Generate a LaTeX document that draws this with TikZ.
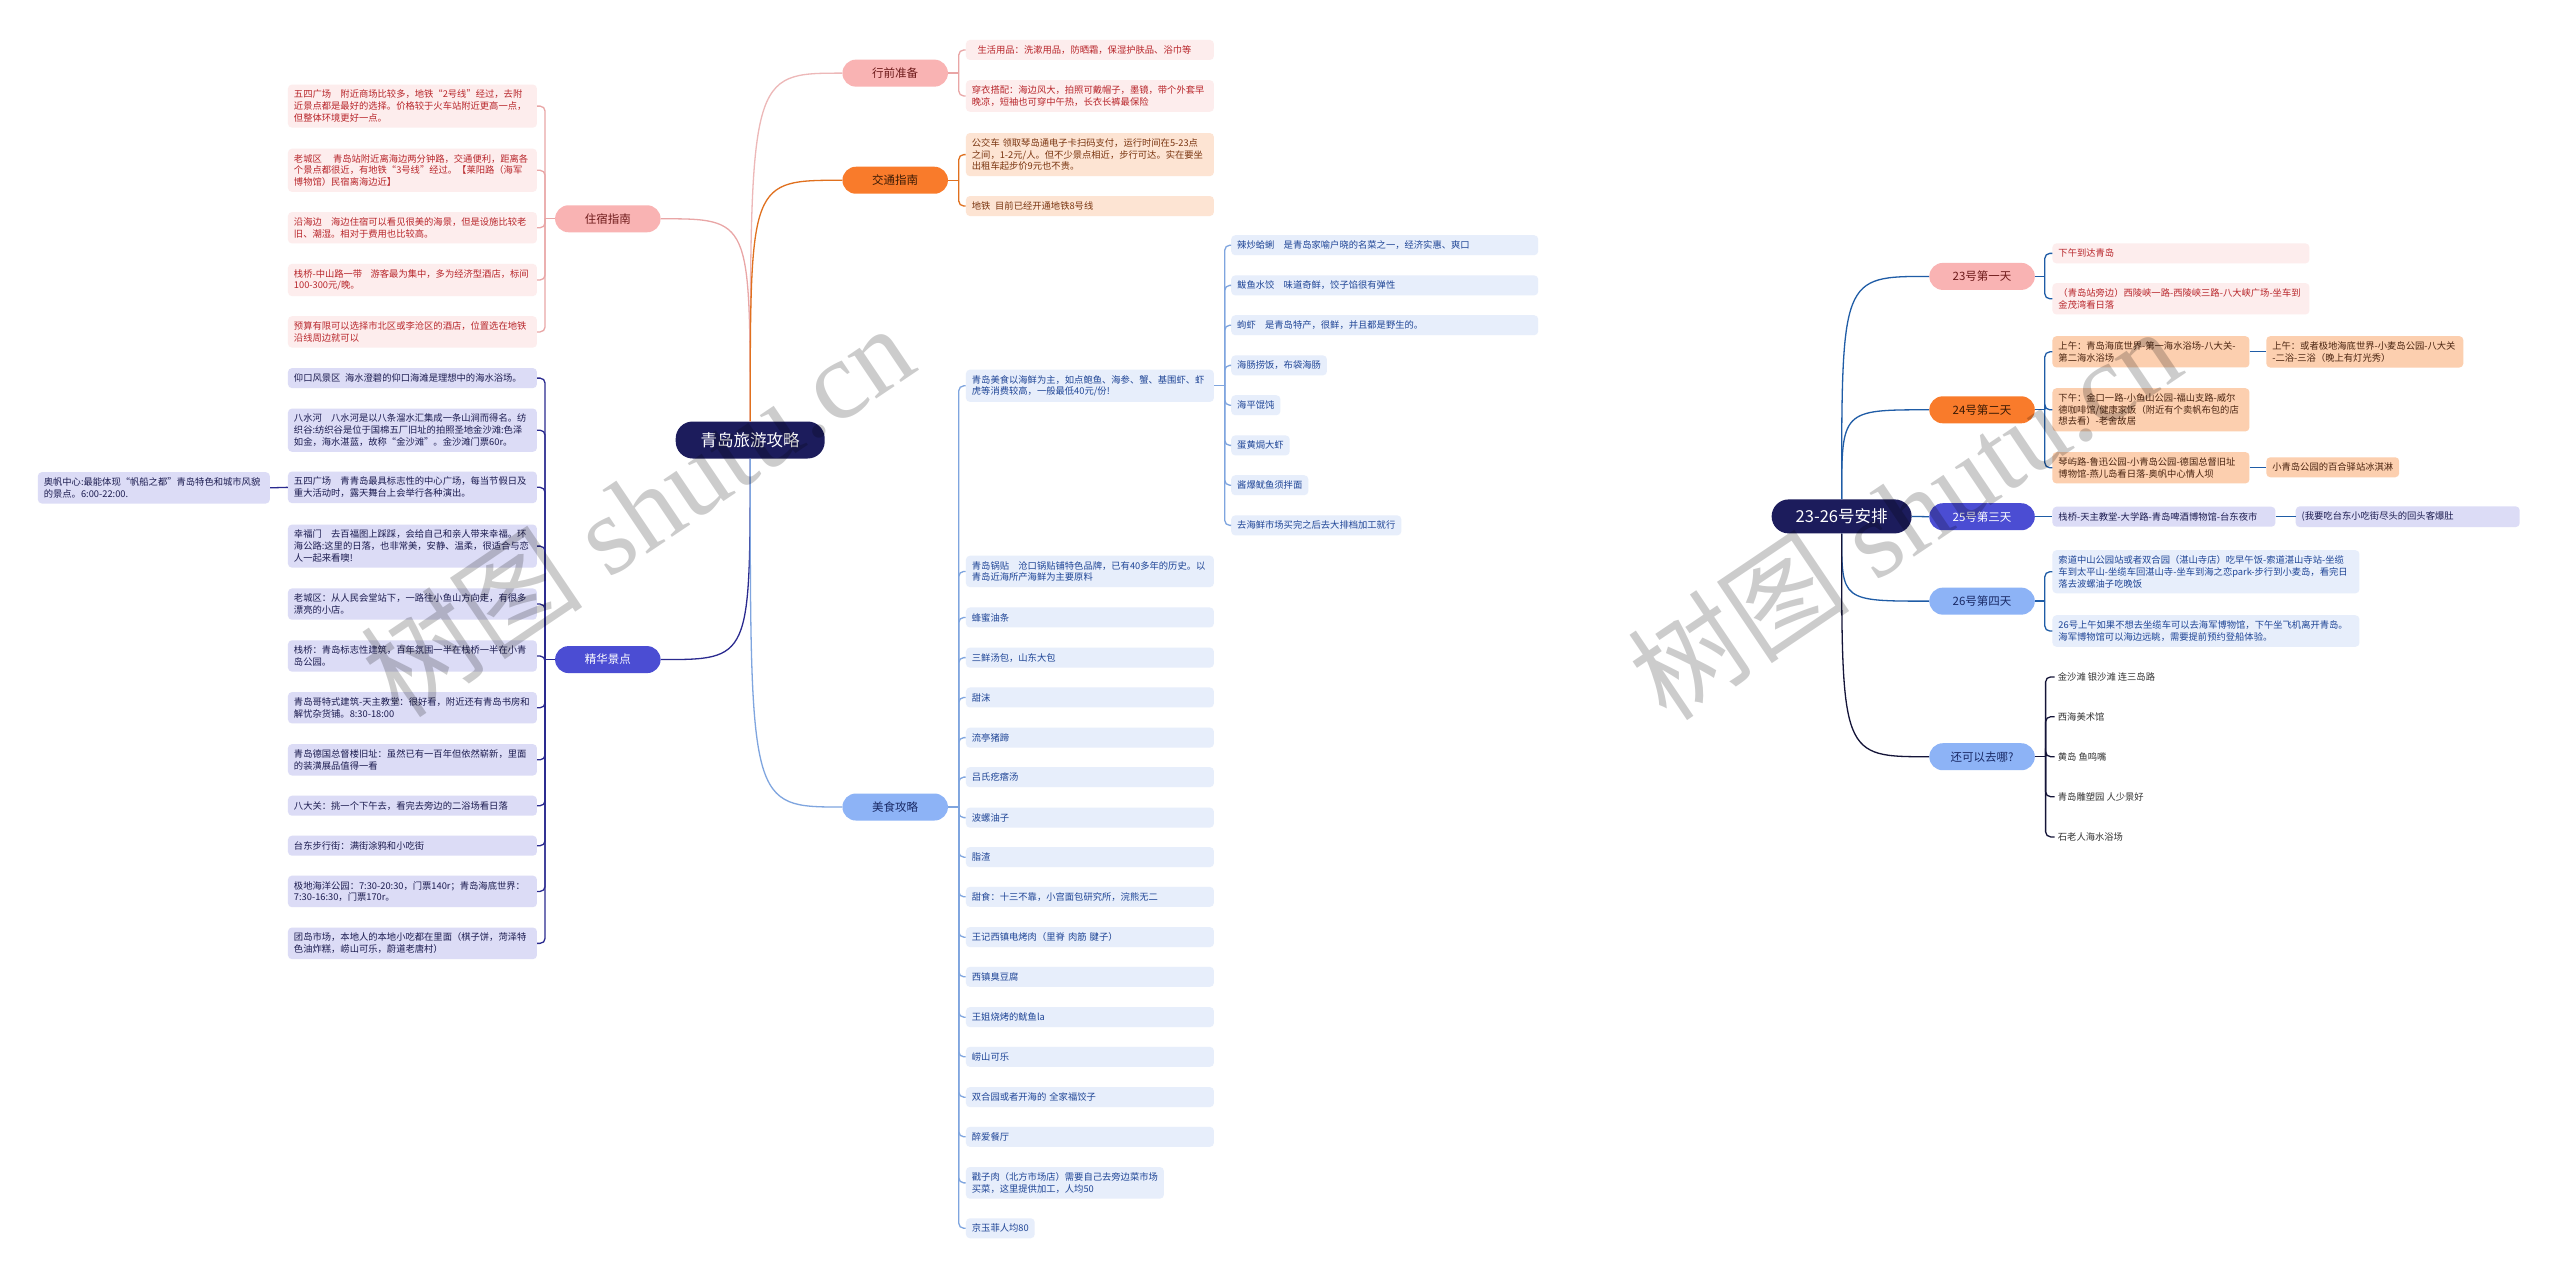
\documentclass[tikz,border=0pt]{standalone}
\usepackage{fontspec}
\setmainfont{Noto Sans CJK SC}
\newfontfamily\wmlatin{Liberation Serif}
\usetikzlibrary{calc}
\newcommand\tgap[1]{\nobreak\hspace{#1em}\nobreak}
\definecolor{navy}{HTML}{1C1C5C}
\definecolor{pinkN}{HTML}{F9B3B3}
\definecolor{pinkB}{HTML}{FDEDED}
\definecolor{pinkT}{HTML}{B8262B}
\definecolor{pinkL}{HTML}{E9A6A6}
\definecolor{pinkNT}{HTML}{6E1A1A}
\definecolor{oraN}{HTML}{F97B2B}
\definecolor{oraB}{HTML}{FDE4D3}
\definecolor{oraT}{HTML}{7A3510}
\definecolor{oraL}{HTML}{E0701E}
\definecolor{oraB2}{HTML}{FCCFAF}
\definecolor{oraT2}{HTML}{4A2410}
\definecolor{oraNT}{HTML}{3A1A05}
\definecolor{bluN}{HTML}{8DB3F6}
\definecolor{bluB}{HTML}{E7EEFB}
\definecolor{bluT}{HTML}{1F4596}
\definecolor{bluL}{HTML}{7FA5DF}
\definecolor{bluNT}{HTML}{1A2A66}
\definecolor{vioN}{HTML}{4B4DD3}
\definecolor{vioB}{HTML}{DCDCF6}
\definecolor{vioT}{HTML}{1C1C50}
\definecolor{vioL}{HTML}{2A2A8F}
\definecolor{rbL}{HTML}{1F5CA6}
\definecolor{blkL}{HTML}{141438}
\definecolor{plainT}{HTML}{333333}
\tikzset{
  box/.style={font=\fontsize{9.3}{11.7}\selectfont, align=left, inner xsep=6pt, inner ysep=5.5pt, minimum height=20pt, rounded corners=4pt},
  zsb/.style={box, fill=pinkB, text=pinkT},
  orb/.style={box, fill=oraB, text=oraT},
  orc/.style={box, fill=oraB2, text=oraT2},
  blb/.style={box, fill=bluB, text=bluT},
  vib/.style={box, fill=vioB, text=vioT},
  plain/.style={font=\fontsize{9.3}{11.7}\selectfont, text=plainT, inner xsep=3pt, inner ysep=3pt, align=left},
  lvl/.style={font=\fontsize{11.5}{13}\selectfont, minimum width=105.5pt, minimum height=27pt, rounded corners=13.5pt, inner sep=0pt},
  root/.style={fill=navy, text=white, font=\fontsize{16.5}{18}\selectfont, rounded corners=17pt, inner sep=0pt},
  conn/.style={line width=1.3pt},
  spine/.style={line width=1.3pt, rounded corners=5pt},
}
\begin{document}
\begin{tikzpicture}[x=1.6327pt,y=-1.6327pt]
\fill[white] (0,0) rectangle (1568,783.4);
\useasboundingbox (0,0) rectangle (1568,783.4);

% ---------- roots ----------
\node[root, minimum width=149pt, minimum height=37pt] (c1) at (459.5,269.5) {青岛旅游攻略};
\node[root, minimum width=140pt, minimum height=34pt] (c2) at (1128,316.3) {23-26号安排};

% ---------- level 1 left map ----------
\node[lvl, fill=pinkN, text=pinkNT] (zs) at (372.3,134) {住宿指南};
\node[lvl, fill=vioN, text=white] (jh) at (372.3,404) {精华景点};
\node[lvl, fill=pinkN, text=pinkNT] (xq) at (548.3,44.8) {行前准备};
\node[lvl, fill=oraN, text=oraNT] (jt) at (548.3,110.4) {交通指南};
\node[lvl, fill=bluN, text=bluNT] (ms) at (548.3,494.3) {美食攻略};

% ---------- level 1 right map ----------
\node[lvl, fill=pinkN, text=pinkNT] (d23) at (1214,169.3) {23号第一天};
\node[lvl, fill=oraN, text=oraNT] (d24) at (1214,251) {24号第二天};
\node[lvl, fill=vioN, text=white] (d25) at (1214,316.5) {25号第三天};
\node[lvl, fill=bluN, text=bluNT] (d26) at (1214,368.2) {26号第四天};
\node[lvl, fill=bluN, text=bluNT] (more) at (1214,463.5) {还可以去哪?};

% ---------- 住宿指南 ----------
\node[zsb, text width=237pt, anchor=east] (zs1) at (329,65) {五四广场\tgap{1}附近商场比较多，地铁“2号线”经过，去附\\近景点都是最好的选择。价格较于火车站附近更高一点，\\但整体环境更好一点。};
\node[zsb, text width=237pt, anchor=east] (zs2) at (329,104.3) {老城区\tgap{1.2}青岛站附近离海边两分钟路，交通便利，距离各\\个景点都很近，有地铁“3号线”经过。【莱阳路（海军\\博物馆）民宿离海边近】};
\node[zsb, text width=237pt, anchor=east] (zs3) at (329,139.5) {沿海边\tgap{1}海边住宿可以看见很美的海景，但是设施比较老\\旧、潮湿。相对于费用也比较高。};
\node[zsb, text width=237pt, anchor=east] (zs4) at (329,171.5) {栈桥-中山路一带\tgap{0.9}游客最为集中，多为经济型酒店，标间\\100-300元/晚。};
\node[zsb, text width=237pt, anchor=east] (zs5) at (329,203.3) {预算有限可以选择市北区或李沧区的酒店，位置选在地铁\\沿线周边就可以};

% ---------- 精华景点 ----------
\node[vib, text width=237pt, anchor=east] (jh1) at (329,231.6) {仰口风景区\tgap{0.5}海水澄碧的仰口海滩是理想中的海水浴场。};
\node[vib, text width=237pt, anchor=east] (jh2) at (329,263.5) {八水河\tgap{1}八水河是以八条溜水汇集成一条山涧而得名。纺\\织谷:纺织谷是位于国棉五厂旧址的拍照圣地金沙滩:色泽\\如金，海水湛蓝，故称“金沙滩”。金沙滩门票60r。};
\node[vib, text width=237pt, anchor=east] (jh3) at (329,298.5) {五四广场\tgap{1}青青岛最具标志性的中心广场，每当节假日及\\重大活动时，露天舞台上会举行各种演出。};
\node[vib, text width=237pt, anchor=east] (jh4) at (329,334.5) {幸福门\tgap{1}去百福图上踩踩，会给自己和亲人带来幸福。环\\海公路:这里的日落，也非常美，安静、温柔，很适合与恋\\人一起来看噢!};
\node[vib, text width=237pt, anchor=east] (jh5) at (329,370) {老城区：从人民会堂站下，一路往小鱼山方向走，有很多\\漂亮的小店。};
\node[vib, text width=237pt, anchor=east] (jh6) at (329,401.8) {栈桥：青岛标志性建筑，百年氛围一半在栈桥一半在小青\\岛公园。};
\node[vib, text width=237pt, anchor=east] (jh7) at (329,433.5) {青岛哥特式建筑-天主教堂：很好看，附近还有青岛书房和\\解忧杂货铺。8:30-18:00};
\node[vib, text width=237pt, anchor=east] (jh8) at (329,465.4) {青岛德国总督楼旧址：虽然已有一百年但依然崭新，里面\\的装潢展品值得一看};
\node[vib, text width=237pt, anchor=east] (jh9) at (329,493.5) {八大关：挑一个下午去，看完去旁边的二浴场看日落};
\node[vib, text width=237pt, anchor=east] (jh10) at (329,518) {台东步行街：满街涂鸦和小吃街};
\node[vib, text width=237pt, anchor=east] (jh11) at (329,546) {极地海洋公园：7:30-20:30，门票140r；青岛海底世界：\\7:30-16:30，门票170r。};
\node[vib, text width=237pt, anchor=east] (jh12) at (329,577.8) {团岛市场，本地人的本地小吃都在里面（棋子饼，菏泽特\\色油炸糕，崂山可乐，蔚道老唐村）};
\node[vib, text width=220pt, anchor=east] (ao) at (165.4,298.8) {奥帆中心:最能体现“帆船之都”青岛特色和城市风貌\\的景点。6:00-22:00.};

% ---------- 行前准备 / 交通指南 ----------
\node[zsb, text width=236pt, anchor=west] (xq1) at (591.5,30.6) {\hspace*{0.6em}生活用品：洗漱用品，防晒霜，保湿护肤品、浴巾等};
\node[zsb, text width=236pt, anchor=west] (xq2) at (591.5,58.8) {穿衣搭配：海边风大，拍照可戴帽子，墨镜，带个外套早\\晚凉，短袖也可穿中午热，长衣长裤最保险};
\node[orb, text width=236pt, anchor=west] (jt1) at (591.5,94.7) {公交车\tgap{0.3}领取琴岛通电子卡扫码支付，运行时间在5-23点\\之间，1-2元/人。但不少景点相近，步行可达。实在要坐\\出租车起步价9元也不贵。};
\node[orb, text width=236pt, anchor=west] (jt2) at (591.5,126.2) {地铁\tgap{0.5}目前已经开通地铁8号线};

% ---------- 美食攻略 ----------
\node[blb, text width=236pt, anchor=west] (ms1) at (591.5,236.3) {青岛美食以海鲜为主，如点鲍鱼、海参、蟹、基围虾、虾\\虎等消费较高，一般最低40元/份!};
\node[blb, text width=236pt, anchor=west] (ms2) at (591.5,350) {青岛锅贴\tgap{1}沧口锅贴铺特色品牌，已有40多年的历史。以\\青岛近海所产海鲜为主要原料};
\node[blb, text width=236pt, anchor=west] (ms3) at (591.5,378.2) {蜂蜜油条};
\node[blb, text width=236pt, anchor=west] (ms4) at (591.5,402.8) {三鲜汤包，山东大包};
\node[blb, text width=236pt, anchor=west] (ms5) at (591.5,427.2) {甜沫};
\node[blb, text width=236pt, anchor=west] (ms6) at (591.5,451.8) {流亭猪蹄};
\node[blb, text width=236pt, anchor=west] (ms7) at (591.5,476) {吕氏疙瘩汤};
\node[blb, text width=236pt, anchor=west] (ms8) at (591.5,500.8) {波螺油子};
\node[blb, text width=236pt, anchor=west] (ms9) at (591.5,525) {脂渣};
\node[blb, text width=236pt, anchor=west] (ms10) at (591.5,549.3) {甜食：十三不靠，小宫面包研究所，浣熊无二};
\node[blb, text width=236pt, anchor=west] (ms11) at (591.5,574) {王记西镇电烤肉（里脊 肉筋 腱子）};
\node[blb, text width=236pt, anchor=west] (ms12) at (591.5,598.3) {西镇臭豆腐};
\node[blb, text width=236pt, anchor=west] (ms13) at (591.5,623) {王姐烧烤的鱿鱼la};
\node[blb, text width=236pt, anchor=west] (ms14) at (591.5,647.3) {崂山可乐};
\node[blb, text width=236pt, anchor=west] (ms15) at (591.5,672) {双合园或者开海的 全家福饺子};
\node[blb, text width=236pt, anchor=west] (ms16) at (591.5,696.3) {醉爱餐厅};
\node[blb, anchor=west] (ms17) at (591.5,724.5) {戳子肉（北方市场店）需要自己去旁边菜市场\\买菜，这里提供加工，人均50};
\node[blb, anchor=west] (ms18) at (591.5,752.3) {京玉菲人均80};

\node[blb, text width=295pt, anchor=west] (sf1) at (754,150.2) {辣炒蛤蜊\tgap{1}是青岛家喻户晓的名菜之一，经济实惠、爽口};
\node[blb, text width=295pt, anchor=west] (sf2) at (754,174.8) {鲅鱼水饺\tgap{1}味道奇鲜，饺子馅很有弹性};
\node[blb, text width=295pt, anchor=west] (sf3) at (754,199.2) {蚼虾\tgap{1}是青岛特产，很鲜，并且都是野生的。};
\node[blb, anchor=west] (sf4) at (754,223.8) {海肠捞饭，布袋海肠};
\node[blb, anchor=west] (sf5) at (754,248.2) {海平馄饨};
\node[blb, anchor=west] (sf6) at (754,272.8) {蛋黄焗大虾};
\node[blb, anchor=west] (sf7) at (754,297.2) {酱爆鱿鱼须拌面};
\node[blb, anchor=west] (sf8) at (754,321.8) {去海鲜市场买完之后去大排档加工就行};

% ---------- right map children ----------
\node[zsb, text width=245pt, anchor=west] (a1) at (1257,155.2) {下午到达青岛};
\node[zsb, text width=245pt, anchor=west] (a2) at (1257,183) {（青岛站旁边）西陵峡一路-西陵峡三路-八大峡广场-坐车到\\金茂湾看日落};
\node[orc, text width=185pt, anchor=west] (b1) at (1257,215.5) {上午：青岛海底世界-第一海水浴场-八大关-\\第二海水浴场};
\node[orc, text width=185pt, anchor=west] (b2) at (1257,251) {下午：金口一路-小鱼山公园-福山支路-威尔\\德咖啡馆/健康家饭（附近有个卖帆布包的店\\想去看）-老舍故居};
\node[orc, text width=185pt, anchor=west] (b3) at (1257,286.5) {琴屿路-鲁迅公园-小青岛公园-德国总督旧址\\博物馆-燕儿岛看日落-奥帆中心情人坝};
\node[orc, text width=185pt, anchor=west] (b1a) at (1388,215.5) {上午：或者极地海底世界-小麦岛公园-八大关\\-二浴-三浴（晚上有灯光秀）};
\node[orc, anchor=west] (b3a) at (1388,286.2) {小青岛公园的百合驿站冰淇淋};
\node[vib, text width=211pt, anchor=west] (e1) at (1257,316.5) {栈桥-天主教堂-大学路-青岛啤酒博物馆-台东夜市};
\node[vib, text width=212pt, anchor=west] (e1a) at (1406,316.5) {(我要吃台东小吃街尽头的回头客爆肚};
\node[blb, text width=295pt, anchor=west] (f1) at (1257,350.2) {索道中山公园站或者双合园（湛山寺店）吃早午饭-索道湛山寺站-坐缆\\车到太平山-坐缆车回湛山寺-坐车到海之恋park-步行到小麦岛，看完日\\落去波螺油子吃晚饭};
\node[blb, text width=295pt, anchor=west] (f2) at (1257,386.5) {26号上午如果不想去坐缆车可以去海军博物馆，下午坐飞机离开青岛。\\海军博物馆可以海边远眺，需要提前预约登船体验。};
\node[plain, anchor=west] (g1) at (1258.5,414.6) {金沙滩 银沙滩 连三岛路};
\node[plain, anchor=west] (g2) at (1258.5,439) {西海美术馆};
\node[plain, anchor=west] (g3) at (1258.5,463.5) {黄岛 鱼鸣嘴};
\node[plain, anchor=west] (g4) at (1258.5,488) {青岛雕塑园 人少景好};
\node[plain, anchor=west] (g5) at (1258.5,512.6) {石老人海水浴场};

% ---------- root connectors ----------
\draw[conn, pinkL] (c1.north) .. controls (c1.north |- zs.east) .. (zs.east);
\draw[conn, pinkL!80] (c1.north) .. controls (c1.north |- xq.west) .. (xq.west);
\draw[conn, oraL] (c1.north) .. controls (c1.north |- jt.west) .. (jt.west);
\draw[conn, vioL] (c1.south) .. controls (c1.south |- jh.east) .. (jh.east);
\draw[conn, bluL] (c1.south) .. controls (c1.south |- ms.west) .. (ms.west);

\draw[conn, rbL] (c2.north) .. controls (c2.north |- d23.west) .. (d23.west);
\draw[conn, rbL] (c2.north) .. controls (c2.north |- d24.west) .. (d24.west);
\draw[conn, rbL] (c2.east) -- (d25.west);
\draw[conn, rbL] (c2.south) .. controls (c2.south |- d26.west) .. (d26.west);
\draw[conn, blkL] (c2.south) .. controls (c2.south |- more.west) .. (more.west);

% ---------- bracket spines ----------
\coordinate (zsS) at ($(zs.west)+(-6,0)$);
\draw[conn, pinkL] (zs.west) -- (zsS);
\foreach \c in {zs1,zs2,zs3,zs4,zs5} \draw[spine, pinkL] (zsS) |- (\c.east);

\coordinate (jhS) at ($(jh.west)+(-6,0)$);
\draw[conn, vioL] (jh.west) -- (jhS);
\foreach \c in {jh1,jh2,jh3,jh4,jh5,jh6,jh7,jh8,jh9,jh10,jh11,jh12} \draw[spine, vioL] (jhS) |- (\c.east);
\draw[conn, vioL] (jh3.west) -- (ao.east);

\coordinate (xqS) at ($(xq.east)+(6.5,0)$);
\draw[conn, pinkL] (xq.east) -- (xqS);
\foreach \c in {xq1,xq2} \draw[spine, pinkL] (xqS) |- (\c.west);

\coordinate (jtS) at ($(jt.east)+(6.5,0)$);
\draw[conn, oraL] (jt.east) -- (jtS);
\foreach \c in {jt1,jt2} \draw[spine, oraL] (jtS) |- (\c.west);

\coordinate (msS) at ($(ms.east)+(6.5,0)$);
\draw[conn, bluL] (ms.east) -- (msS);
\foreach \c in {ms1,ms2,ms3,ms4,ms5,ms6,ms7,ms8,ms9,ms10,ms11,ms12,ms13,ms14,ms15,ms16,ms17,ms18} \draw[spine, bluL] (msS) |- (\c.west);

\coordinate (sfS) at ($(ms1.east)+(6.5,0)$);
\draw[conn, bluL] (ms1.east) -- (sfS);
\foreach \c in {sf1,sf2,sf3,sf4,sf5,sf6,sf7,sf8} \draw[spine, bluL] (sfS) |- (\c.west);

\coordinate (aS) at ($(d23.east)+(6,0)$);
\draw[conn, rbL] (d23.east) -- (aS);
\foreach \c in {a1,a2} \draw[spine, rbL] (aS) |- (\c.west);

\coordinate (bS) at ($(d24.east)+(6,0)$);
\draw[conn, rbL] (d24.east) -- (bS);
\foreach \c in {b1,b2,b3} \draw[spine, rbL] (bS) |- (\c.west);
\draw[conn, rbL] (b1.east) -- (b1a.west);
\draw[conn, rbL] (b3.east |- b3a.west) -- (b3a.west);

\draw[conn, rbL] (d25.east) -- (e1.west);
\draw[conn, rbL] (e1.east) -- (e1a.west);

\coordinate (fS) at ($(d26.east)+(6,0)$);
\draw[conn, rbL] (d26.east) -- (fS);
\foreach \c in {f1,f2} \draw[spine, rbL] (fS) |- (\c.west);

\coordinate (gS) at ($(more.east)+(6.5,0)$);
\draw[conn, blkL] (more.east) -- (gS);
\foreach \c in {g1,g2,g3,g4,g5} \draw[spine, blkL] (gS) |- (\c.west);

% ---------- watermarks ----------
\node[rotate=34, text=black, opacity=0.2, font=\fontsize{112}{112}\selectfont] (wm1) at (390,312) {树图\hspace{0.25em}{\wmlatin shutu.cn}};
\node[rotate=34, text=black, opacity=0.2, font=\fontsize{112}{112}\selectfont] (wm2) at (1166,314) {树图\hspace{0.25em}{\wmlatin shutu.cn}};
\end{tikzpicture}
\end{document}
